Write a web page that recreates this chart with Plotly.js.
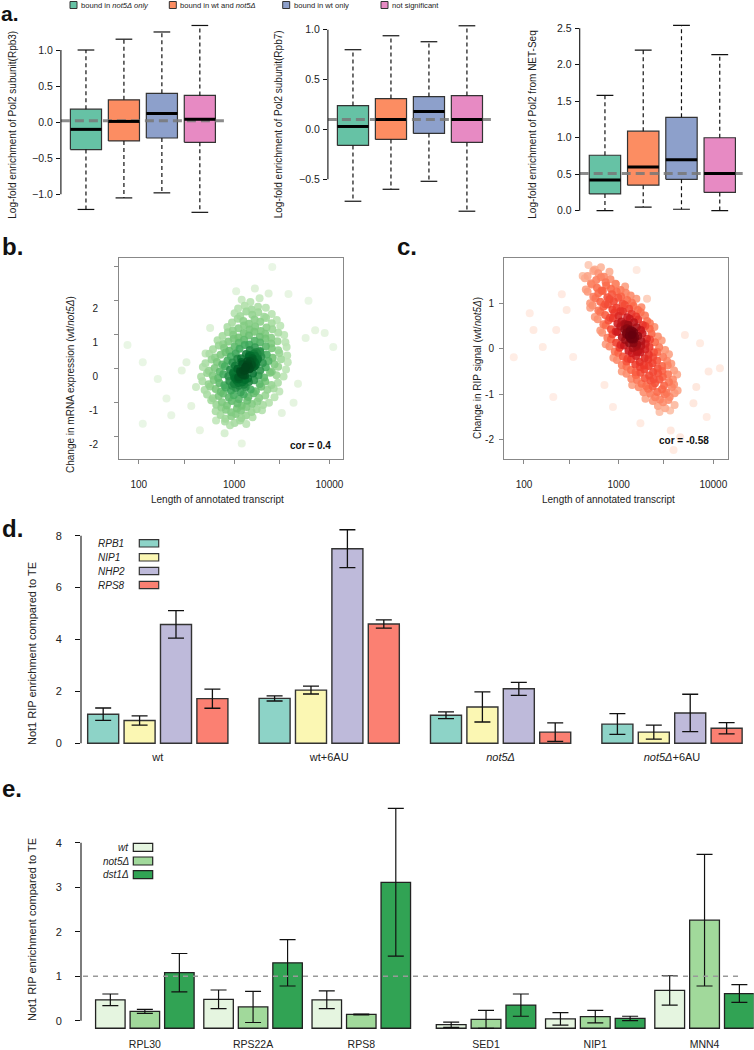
<!DOCTYPE html>
<html>
<head>
<meta charset="utf-8">
<script src="https://cdn.plot.ly/plotly-3.0.1.min.js"></script>
<style>
html,body{margin:0;padding:0;background:#ffffff;}
#fig{width:754px;height:1050px;}
</style>
</head>
<body>
<div id="fig"></div>
<script>
// ================= DATA =================
// Panel a: boxplot summaries (lower whisker, Q1, median, Q3, upper whisker)
const boxGroups = ['bound in <i>not5Δ only</i>', 'bound in wt and <i>not5Δ</i>', 'bound in wt only', 'not significant'];
const boxColors = ['#66c2a5', '#fc8d62', '#8da0cb', '#e78ac3'];

const rpb3Low  = [-1.21, -1.05, -0.98, -1.25];
const rpb3Q1   = [-0.38, -0.26, -0.22, -0.28];
const rpb3Med  = [-0.10,  0.01,  0.12,  0.04];
const rpb3Q3   = [ 0.18,  0.31,  0.40,  0.37];
const rpb3High = [ 1.00,  1.15,  1.25,  1.34];
const rpb3Ref  = 0.02;

const rpb7Low  = [-0.72, -0.60, -0.52, -0.82];
const rpb7Q1   = [-0.16, -0.10, -0.04, -0.13];
const rpb7Med  = [ 0.03,  0.10,  0.18,  0.10];
const rpb7Q3   = [ 0.24,  0.31,  0.33,  0.34];
const rpb7High = [ 0.80,  0.94,  0.88,  1.04];
const rpb7Ref  = 0.10;

const netLow  = [0.00, 0.05, 0.02, 0.00];
const netQ1   = [0.23, 0.35, 0.43, 0.25];
const netMed  = [0.42, 0.60, 0.70, 0.51];
const netQ3   = [0.76, 1.09, 1.28, 1.00];
const netHigh = [1.58, 2.20, 2.54, 2.14];
const netRef  = 0.51;

// Panel b: transcript length vs change in mRNA expression
const bLen = [
  800,905,1010,1150,1340,
  720,810,935,1040,1190,1330,1560,
  640,735,820,930,1070,1180,1350,1520,1720,1960,
  575,650,745,840,945,1080,1200,1370,1540,1750,2010,2320,
  520,600,690,770,880,990,1120,1260,1410,1600,1830,2120,2650,
  490,560,640,725,815,925,1040,1170,1320,1490,1690,1920,2230,2600,2980,
  465,540,610,700,790,890,1000,1130,1270,1430,1620,1850,2120,2460,2880,
  450,520,595,680,770,870,975,1100,1240,1400,1580,1800,2060,2380,2780,3300,
  470,545,625,705,800,905,1020,1150,1300,1460,1650,1880,2150,2480,2900,3500,
  500,580,660,750,850,960,1080,1220,1370,1550,1760,2000,2290,2650,3100,3650,
  550,630,720,815,925,1040,1180,1330,1500,1700,1930,2200,2540,2980,3600,
  600,690,785,890,1010,1140,1290,1460,1650,1880,2150,2480,2900,3550,
  670,770,870,990,1120,1270,1440,1640,1870,2130,2450,2850,3450,
  755,860,980,1110,1260,1430,1630,1860,2120,2450,2900,3350,
  850,970,1110,1270,1450,1660,1900,2180,2520,3050,
  950,1090,1250,1430,1640,1880,2160,2480,2800,
  1010,1160,1340,1550,1790,2070,2480,
  1100,1290,1520,1780,2150,
  1200,1480,1850,
  1050,1650,2300
];
const bChg = [
  -1.55,-1.66,-1.6,-1.52,-1.63,
  -1.36,-1.47,-1.4,-1.33,-1.45,-1.38,-1.43,
  -1.25,-1.14,-1.21,-1.28,-1.17,-1.23,-1.13,-1.27,-1.19,-1.22,
  -0.93,-1.06,-0.99,-1.08,-0.95,-1.02,-1.09,-0.94,-1.04,-0.97,-1.07,-1.0,
  -0.76,-0.87,-0.8,-0.73,-0.85,-0.78,-0.89,-0.75,-0.83,-0.72,-0.86,-0.79,-0.84,
  -0.63,-0.52,-0.6,-0.68,-0.55,-0.64,-0.57,-0.69,-0.54,-0.61,-0.66,-0.53,-0.62,-0.58,-0.67,
  -0.37,-0.46,-0.33,-0.42,-0.49,-0.36,-0.44,-0.31,-0.47,-0.39,-0.34,-0.45,-0.38,-0.48,-0.41,
  -0.24,-0.13,-0.2,-0.27,-0.16,-0.22,-0.11,-0.25,-0.18,-0.29,-0.14,-0.21,-0.26,-0.12,-0.19,-0.23,
  0.05,-0.06,0.02,-0.09,0.07,-0.03,0.09,-0.07,0.03,-0.01,0.08,-0.05,0.04,-0.08,0.06,-0.02,
  0.16,0.27,0.2,0.12,0.24,0.18,0.29,0.14,0.22,0.11,0.26,0.17,0.23,0.13,0.28,0.19,
  0.44,0.33,0.41,0.48,0.36,0.45,0.31,0.43,0.38,0.49,0.35,0.42,0.32,0.46,0.39,
  0.57,0.68,0.61,0.53,0.65,0.59,0.7,0.55,0.63,0.52,0.66,0.6,0.54,0.64,
  0.84,0.73,0.8,0.88,0.76,0.85,0.71,0.82,0.77,0.89,0.74,0.81,0.78,
  0.96,1.07,1.0,0.92,1.05,0.98,1.09,0.94,1.03,0.91,1.06,0.99,
  1.23,1.12,1.19,1.27,1.15,1.24,1.11,1.21,1.16,1.26,
  1.36,1.47,1.4,1.32,1.45,1.38,1.49,1.34,1.43,
  1.63,1.55,1.68,1.59,1.66,1.53,1.61,
  1.77,1.85,1.74,1.82,1.79,
  2.03,1.96,2.07,
  2.28,2.36,2.21
];
const bCoreLen = [1000,1060,1120,1180,1250,1320,1400,1480,1570,1660,1760,1860,
                  1000,1090,1170,1260,1350,1450,1550,1650,1120,1220,1320,1420,1520,1620,
                  950,1030,1110,1200,1300,1420,1540,1700,1880,980,1080,1190,1310,1440,1600,1780];
const bCoreChg = [-0.45,-0.35,-0.25,-0.15,-0.05,0.05,0.15,0.22,0.3,0.38,0.45,0.5,
                  -0.25,-0.3,-0.1,-0.2,0.1,0.0,0.25,0.2,-0.5,-0.4,-0.05,0.35,0.1,0.45,
                  -0.5,-0.28,-0.42,-0.1,-0.33,0.08,0.3,0.12,0.48,-0.15,0.0,0.2,-0.2,0.4,0.05,0.3];
const bOutLen = [76,110,195,219,398,437,646,2512,1202,6026,7079,10965,4677,110,316,3715,282,501,3162,5623,158,794,355,8913,4200,560];
const bOutChg = [0.7,0.19,-0.88,-1.37,-0.54,-1.81,-1.52,2.99,-2.2,2.0,1.13,0.64,-0.44,-1.62,0.19,2.2,-0.05,0.45,-1.3,0.9,-0.3,-1.9,-1.1,1.05,-1.0,1.2];
const bCor = 'cor = 0.4';

// Panel c: transcript length vs change in RIP signal
const cLen = [
  480,560,650,
  470,540,610,700,800,
  440,510,580,650,730,820,930,
  450,520,590,660,740,830,930,1050,1170,
  470,540,610,680,760,850,950,1060,1190,1340,
  500,570,640,720,800,890,990,1100,1230,1380,1540,
  530,610,690,770,860,950,1050,1160,1290,1440,1600,1740,
  560,640,720,810,900,1000,1110,1230,1370,1530,1710,1900,
  600,690,780,870,970,1070,1180,1310,1450,1610,1800,2000,2140,
  640,730,830,930,1040,1150,1270,1400,1550,1720,1910,2130,2390,
  670,760,860,970,1080,1200,1320,1460,1610,1790,1990,2230,2600,
  730,830,940,1050,1170,1290,1420,1570,1740,1930,2150,2420,2850,
  800,910,1020,1140,1270,1410,1560,1730,1910,2120,2360,2680,3100,
  880,990,1110,1240,1380,1530,1700,1880,2080,2310,2580,2950,3400,
  960,1080,1210,1350,1500,1670,1850,2050,2280,2550,2880,3250,3600,
  1080,1210,1350,1510,1680,1870,2080,2310,2580,2900,3300,3850,
  1210,1360,1520,1700,1890,2100,2340,2610,2930,3320,3750,4150,
  1390,1560,1750,1950,2170,2420,2700,3020,3400,3850,
  1630,1830,2050,2290,2560,2870,3220,3650,4200,
  1920,2160,2430,2730,3070,3460,3900,
  2300,2600,2950,3350,3900,
  2700,3100,3500
];
const cChg = [
  1.84,1.74,1.79,
  1.6,1.71,1.66,1.58,1.69,
  1.55,1.44,1.51,1.57,1.46,1.53,1.43,
  1.3,1.41,1.34,1.28,1.39,1.32,1.42,1.29,1.37,
  1.25,1.14,1.22,1.27,1.13,1.2,1.26,1.15,1.23,1.17,
  1.0,1.11,1.03,0.98,1.09,1.04,1.12,0.99,1.07,1.01,1.1,
  0.95,0.84,0.92,0.97,0.86,0.9,0.83,0.96,0.88,0.94,0.85,0.91,
  0.7,0.81,0.74,0.68,0.79,0.72,0.82,0.69,0.77,0.71,0.8,0.73,
  0.65,0.54,0.62,0.67,0.55,0.6,0.53,0.66,0.58,0.64,0.52,0.61,0.56,
  0.4,0.51,0.43,0.38,0.49,0.42,0.52,0.39,0.47,0.41,0.5,0.44,0.48,
  0.35,0.24,0.32,0.37,0.25,0.31,0.23,0.36,0.28,0.34,0.22,0.33,0.27,
  0.1,0.21,0.13,0.08,0.19,0.12,0.22,0.09,0.17,0.11,0.2,0.14,0.18,
  0.05,-0.06,0.02,0.07,-0.05,0.01,-0.07,0.06,-0.02,0.04,-0.08,0.03,-0.03,
  -0.2,-0.09,-0.17,-0.22,-0.1,-0.16,-0.08,-0.21,-0.13,-0.19,-0.07,-0.18,-0.12,
  -0.25,-0.36,-0.28,-0.23,-0.35,-0.29,-0.37,-0.24,-0.32,-0.26,-0.38,-0.27,-0.33,
  -0.5,-0.39,-0.47,-0.52,-0.4,-0.46,-0.38,-0.51,-0.43,-0.49,-0.37,-0.48,
  -0.55,-0.66,-0.58,-0.53,-0.65,-0.59,-0.67,-0.54,-0.62,-0.56,-0.68,-0.57,
  -0.8,-0.69,-0.77,-0.82,-0.7,-0.76,-0.68,-0.81,-0.73,-0.79,
  -0.85,-0.96,-0.88,-0.83,-0.95,-0.89,-0.97,-0.84,-0.92,
  -1.1,-0.99,-1.07,-1.12,-1.0,-1.06,-0.98,
  -1.15,-1.26,-1.18,-1.13,-1.24,
  -1.39,-1.31,-1.36
];
const cCoreLen = [1150,1220,1300,1380,1460,1250,1330,1410,1500,1200,1280,1360,1440,1540,1620];
const cCoreChg = [0.55,0.45,0.38,0.3,0.2,0.52,0.42,0.33,0.25,0.35,0.28,0.2,0.12,0.05,-0.05];
const cOutLen = [78,115,126,158,219,331,204,282,871,1698,3802,4467,6166,11749,6607,1549,7244,8511,417,501,5012,251,3548,1995,708,8913];
const cOutChg = [-0.19,0.78,0.41,0.04,0.41,-0.18,-1.06,0.85,-1.28,-1.64,-2.23,-1.95,-1.2,-0.43,-0.84,1.73,0.12,-1.5,1.6,0.9,0.3,1.2,-1.8,1.1,-0.8,-0.5];
const cCor = 'cor = -0.58';

// Panel d: Not1 RIP enrichment
const dConds = ['wt', 'wt+6AU', '<i>not5Δ</i>', '<i>not5Δ</i>+6AU'];
const dGenes = ['RPB1', 'NIP1', 'NHP2', 'RPS8'];
const dColors = ['#8dd3c7', '#fbf7b3', '#bebada', '#fb8072'];
const dRPB1 = [1.12, 1.73, 1.08, 0.74];  const dRPB1Err = [0.24, 0.10, 0.13, 0.40];
const dNIP1 = [0.88, 2.05, 1.40, 0.43];  const dNIP1Err = [0.18, 0.15, 0.58, 0.27];
const dNHP2 = [4.58, 7.50, 2.10, 1.17];  const dNHP2Err = [0.53, 0.73, 0.25, 0.72];
const dRPS8 = [1.72, 4.60, 0.43, 0.58];  const dRPS8Err = [0.37, 0.16, 0.36, 0.22];

// Panel e: Not1 RIP enrichment by strain
const eGenes = ['RPL30', 'RPS22A', 'RPS8', 'SED1', 'NIP1', 'MNN4'];
const eStrains = ['wt', 'not5Δ', 'dst1Δ'];
const eColors = ['#e5f5e0', '#a1d99b', '#31a354'];
const eWt    = [0.47, 0.48, 0.47, -0.09, 0.04, 0.68];  const eWtErr    = [0.13, 0.21, 0.20, 0.06, 0.14, 0.33];
const eNot5  = [0.21, 0.31, 0.14,  0.03, 0.09, 2.26];  const eNot5Err  = [0.045, 0.35, 0.01, 0.20, 0.14, 1.48];
const eDst1  = [1.08, 1.30, 3.11,  0.35, 0.05, 0.61];  const eDst1Err  = [0.43, 0.52, 1.66, 0.25, 0.05, 0.20];
const eRef = 1;
const eFloor = -0.17;   // bars in the original start slightly below the 0 tick

// ================= HELPERS =================
const W = 754, H = 1050;
const fx = p => p / W;
const fy = p => 1 - p / H;
const FONT = '"Liberation Sans", Arial, Helvetica, sans-serif';
const traces = [];
const shapes = [];
const annotations = [];

function ann(xp, yp, text, o) {
  o = o || {};
  annotations.push(Object.assign({
    xref: 'paper', yref: 'paper', x: fx(xp), y: fy(yp), text: text, showarrow: false,
    xanchor: 'center', yanchor: 'middle',
    font: {family: FONT, size: 10, color: '#222'}
  }, o));
}

// ---------- Panel a ----------
const A1_XR = [0.34, 4.66], A2_XR = [0.34, 4.66], A3_XR = [0.34, 4.66];
function addBoxPanel(xa, ya, xr, low, q1, med, q3, high, ref) {
  const hw = 0.41, cw = 0.22;
  for (let i = 0; i < low.length; i++) {
    const c = i + 1;
    traces.push({type: 'scatter', mode: 'lines', xaxis: xa, yaxis: ya,
      x: [c - hw, c + hw, c + hw, c - hw, c - hw], y: [q1[i], q1[i], q3[i], q3[i], q1[i]],
      fill: 'toself', fillcolor: boxColors[i], line: {color: '#333', width: 1.2}, hoverinfo: 'skip'});
  }
  const wx = [], wy = [], cx = [], cy = [], mx = [], my = [];
  for (let i = 0; i < low.length; i++) {
    const c = i + 1;
    wx.push(c, c, null, c, c, null); wy.push(q3[i], high[i], null, q1[i], low[i], null);
    cx.push(c - cw, c + cw, null, c - cw, c + cw, null); cy.push(high[i], high[i], null, low[i], low[i], null);
    mx.push(c - hw, c + hw, null); my.push(med[i], med[i], null);
  }
  traces.push({type: 'scatter', mode: 'lines', xaxis: xa, yaxis: ya, x: wx, y: wy,
    line: {color: '#111', width: 1.2, dash: '4px,3px'}, hoverinfo: 'skip'});
  traces.push({type: 'scatter', mode: 'lines', xaxis: xa, yaxis: ya, x: cx, y: cy,
    line: {color: '#111', width: 1.2}, hoverinfo: 'skip'});
  traces.push({type: 'scatter', mode: 'lines', xaxis: xa, yaxis: ya, x: xr, y: [ref, ref],
    line: {color: 'rgba(120,120,120,0.85)', width: 3, dash: '9px,5px'}, hoverinfo: 'skip'});
  traces.push({type: 'scatter', mode: 'lines', xaxis: xa, yaxis: ya, x: mx, y: my,
    line: {color: '#000', width: 3}, hoverinfo: 'skip'});
}
addBoxPanel('x', 'y', A1_XR, rpb3Low, rpb3Q1, rpb3Med, rpb3Q3, rpb3High, rpb3Ref);
addBoxPanel('x2', 'y2', A2_XR, rpb7Low, rpb7Q1, rpb7Med, rpb7Q3, rpb7High, rpb7Ref);
addBoxPanel('x3', 'y3', A3_XR, netLow, netQ1, netMed, netQ3, netHigh, netRef);

// ---------- Panels b, c ----------
const greens = [[0, '#eef8ea'], [0.18, '#e0f2da'], [0.32, '#c7e9c0'], [0.46, '#a1d99b'], [0.6, '#74c476'],
  [0.72, '#41ab5d'], [0.83, '#238b45'], [0.92, '#006d2c'], [1, '#00441b']];
const reds = [[0, '#fff0ea'], [0.18, '#fee0d2'], [0.32, '#fcbba1'], [0.46, '#fc9272'], [0.6, '#fb6a4a'],
  [0.72, '#ef3b2c'], [0.83, '#cb181d'], [0.92, '#a50f15'], [1, '#67000d']];

function addDensScatter(xa, ya, lens, chgs, pxDec, pxUnit, scale, gamma) {
  const n = lens.length, bw = 11;
  const lx = lens.map(v => Math.log10(v) * pxDec);
  const ly = chgs.map(v => v * pxUnit);
  const dens = lx.map((x, i) => {
    let s = 0;
    for (let j = 0; j < n; j++) {
      const dx = x - lx[j], dy = ly[i] - ly[j];
      s += Math.exp(-(dx * dx + dy * dy) / (2 * bw * bw));
    }
    return s;
  });
  const m = Math.max(...dens);
  const order = dens.map((d, i) => i).sort((a, b) => dens[a] - dens[b]);
  traces.push({type: 'scatter', mode: 'markers', xaxis: xa, yaxis: ya,
    x: order.map(i => lens[i]), y: order.map(i => chgs[i]),
    marker: {size: 8, color: order.map(i => Math.pow(dens[i] / m, gamma)), colorscale: scale, cmin: 0, cmax: 1,
      opacity: 0.9, line: {width: 0}}, hoverinfo: 'skip'});
}
addDensScatter('x4', 'y4', bLen.concat(bCoreLen, bOutLen), bChg.concat(bCoreChg, bOutChg), 96.3, 34, greens, 0.65);
addDensScatter('x5', 'y5', cLen.concat(cCoreLen, cOutLen), cChg.concat(cCoreChg, cOutChg), 94.7, 45.5, reds, 0.8);

// ---------- Panel d ----------
const dVals = [dRPB1, dNIP1, dNHP2, dRPS8];
const dErrs = [dRPB1Err, dNIP1Err, dNHP2Err, dRPS8Err];
const D_SLOT = 0.2124, D_BAR = 0.181;
dVals.forEach((vals, k) => {
  traces.push({type: 'bar', xaxis: 'x6', yaxis: 'y6', x: dConds, y: vals, name: dGenes[k],
    width: D_BAR, offset: -2 * D_SLOT + (D_SLOT - D_BAR) / 2 + k * D_SLOT,
    marker: {color: dColors[k], line: {color: '#333', width: 1.4}},
    error_y: {type: 'data', array: dErrs[k], visible: true, color: '#111', thickness: 1.3, width: 8},
    hoverinfo: 'skip'});
});

// ---------- Panel e ----------
const eVals = [eWt, eNot5, eDst1];
const eErrs = [eWtErr, eNot5Err, eDst1Err];
const E_SLOT = 0.3189, E_BAR = 0.2726;
[['x7', 0, 3], ['x8', 3, 6]].forEach(([xa, s, e]) => {
  eVals.forEach((vals, k) => {
    traces.push({type: 'bar', xaxis: xa, yaxis: 'y7', x: eGenes.slice(s, e),
      y: vals.slice(s, e).map(v => v - eFloor), base: eFloor, name: eStrains[k],
      width: E_BAR, offset: -1.5 * E_SLOT + (E_SLOT - E_BAR) / 2 + k * E_SLOT,
      marker: {color: eColors[k], line: {color: '#222', width: 1.3}},
      error_y: {type: 'data', array: eErrs[k].slice(s, e), visible: true, color: '#111', thickness: 1.2, width: 8},
      hoverinfo: 'skip'});
  });
});

// ================= AXES / SHAPES / TEXT =================
const base = {showgrid: false, zeroline: false, fixedrange: true};
const tickFontA = {family: FONT, size: 10.5, color: '#222'};

function aY(domTop, domBot, range, tv, anchor) {
  return Object.assign({}, base, {domain: [fy(domBot), fy(domTop)], range: range, anchor: anchor,
    tickvals: tv, tickformat: '.1f', ticks: 'outside', ticklen: 4, tickcolor: '#111', tickwidth: 1,
    showline: false, tickfont: tickFontA, ticklabelstandoff: 1});
}
function aX(l, r, range, anchor) {
  return Object.assign({}, base, {domain: [fx(l), fx(r)], range: range, anchor: anchor,
    showticklabels: false, ticks: '', showline: false});
}

const layout = {
  width: W, height: H, margin: {l: 0, r: 0, t: 0, b: 0},
  paper_bgcolor: '#ffffff', plot_bgcolor: 'rgba(0,0,0,0)', showlegend: false,
  font: {family: FONT, size: 10, color: '#222'}, barmode: 'overlay',
  xaxis: aX(60.9, 224.9, A1_XR, 'y'),
  yaxis: aY(20, 215, [-1.287, 1.416], [-1, -0.5, 0, 0.5, 1], 'x'),
  xaxis2: aX(327.9, 492, A2_XR, 'y2'),
  yaxis2: aY(20, 215, [-0.858, 1.098], [-0.5, 0, 0.5, 1], 'x2'),
  xaxis3: aX(579.7, 745, A3_XR, 'y3'),
  yaxis3: aY(20, 215, [-0.059, 2.614], [0, 0.5, 1, 1.5, 2, 2.5], 'x3'),

  xaxis4: Object.assign({}, base, {type: 'log', domain: [fx(119), fx(343)], range: [1.792, 4.142], anchor: 'y4',
    tickvals: [100, 300, 1000, 3000, 10000], ticktext: ['100', '', '1000', '', '10000'],
    ticks: 'outside', ticklen: 4, tickcolor: '#888', showline: true, linecolor: '#888', linewidth: 1, mirror: true,
    tickfont: {family: FONT, size: 10, color: '#222'}, ticklabelstandoff: 12}),
  yaxis4: Object.assign({}, base, {domain: [fy(459), fy(258)], range: [-2.656, 3.256], anchor: 'x4',
    tickvals: [-2, -1, 0, 1, 2, 3], ticktext: ['-2', '-1', '0', '1', '2', ''],
    ticks: 'outside', ticklen: 4, tickcolor: '#888', showline: true, linecolor: '#888', linewidth: 1, mirror: true,
    tickfont: {family: FONT, size: 10, color: '#222'}, ticklabelstandoff: 14, ticklabelshift: 8}),
  xaxis5: Object.assign({}, base, {type: 'log', domain: [fx(504), fx(727.7)], range: [1.789, 4.152], anchor: 'y5',
    tickvals: [100, 300, 1000, 3000, 10000], ticktext: ['100', '', '1000', '', '10000'],
    ticks: 'outside', ticklen: 4, tickcolor: '#888', showline: true, linecolor: '#888', linewidth: 1, mirror: true,
    tickfont: {family: FONT, size: 10, color: '#222'}, ticklabelstandoff: 12}),
  yaxis5: Object.assign({}, base, {domain: [fy(459), fy(258)], range: [-2.426, 1.995], anchor: 'x5',
    tickvals: [-2, -1, 0, 1], ticktext: ['-2', '-1', '0', '1'],
    ticks: 'outside', ticklen: 4, tickcolor: '#888', showline: true, linecolor: '#888', linewidth: 1, mirror: true,
    tickfont: {family: FONT, size: 10, color: '#222'}, ticklabelstandoff: 3}),

  xaxis6: Object.assign({}, base, {type: 'category', domain: [fx(81), fx(750)], range: [-0.448, 3.455], anchor: 'y6',
    ticks: '', showline: false, tickfont: {family: FONT, size: 11, color: '#222'}, ticklabelstandoff: 4}),
  yaxis6: Object.assign({}, base, {domain: [fy(745), fy(528)], range: [-0.066, 8.297], anchor: 'x6',
    tickvals: [0, 2, 4, 6, 8], ticks: 'outside', ticklen: 5, tickcolor: '#111', showline: false,
    tickfont: {family: FONT, size: 11, color: '#222'}, ticklabelstandoff: 11}),

  xaxis7: Object.assign({}, base, {type: 'category', domain: [fx(81), fx(415.4)], range: [-0.59, 2.5], anchor: 'y7',
    ticks: '', showline: false, tickfont: {family: FONT, size: 10.5, color: '#222'}, ticklabelstandoff: 4}),
  xaxis8: Object.assign({}, base, {type: 'category', domain: [fx(431.4), fx(753.7)], range: [-0.5, 2.45], anchor: 'y7',
    ticks: '', showline: false, tickfont: {family: FONT, size: 10.5, color: '#222'}, ticklabelstandoff: 4}),
  yaxis7: Object.assign({}, base, {domain: [fy(1032), fy(800)], range: [-0.254, 4.96], anchor: 'x7',
    tickvals: [0, 1, 2, 3, 4], ticks: 'outside', ticklen: 5, tickcolor: '#111', showline: false,
    tickfont: {family: FONT, size: 11, color: '#222'}, ticklabelstandoff: 11}),
  shapes: shapes, annotations: annotations
};

// R-style axis lines spanning the tick range
[['x domain', 'y', -1, 1], ['x2 domain', 'y2', -0.5, 1], ['x3 domain', 'y3', 0, 2.5],
 ['x6 domain', 'y6', 0, 8], ['x7 domain', 'y7', 0, 4]].forEach(([xr, yr, a, b]) => {
  shapes.push({type: 'line', xref: xr, yref: yr, x0: 0, x1: 0, y0: a, y1: b, line: {color: '#111', width: 1.1}});
});
// reference line in e
shapes.push({type: 'line', xref: 'paper', yref: 'y7', x0: fx(83), x1: fx(743), y0: eRef, y1: eRef,
  line: {color: '#999', width: 1.5, dash: '5px,5px'}, layer: 'above'});

// Panel a legend
const legX = [70, 169.3, 282.7, 381];
boxGroups.forEach((g, i) => {
  shapes.push({type: 'rect', xref: 'paper', yref: 'paper', x0: fx(legX[i]), x1: fx(legX[i] + 7),
    y0: fy(8.5), y1: fy(1.5), fillcolor: boxColors[i], line: {color: '#333', width: 1}});
  ann(legX[i] + 9, 5.2, g, {xanchor: 'left', font: {family: FONT, size: 7.6, color: '#222'}});
});

// Panel d legend
const dLegY = [543.3, 557.3, 571, 585];
dGenes.forEach((g, k) => {
  shapes.push({type: 'rect', xref: 'paper', yref: 'paper', x0: fx(139.3), x1: fx(158.7),
    y0: fy(dLegY[k] + 3.7), y1: fy(dLegY[k] - 3.7), fillcolor: dColors[k], line: {color: '#333', width: 1.2}});
  ann(96, dLegY[k], '<i>' + g + '</i>', {xanchor: 'left', font: {family: FONT, size: 10, color: '#222'}});
});

// Panel e legend
const eLegY = [847.3, 861, 874.7];
eStrains.forEach((g, k) => {
  shapes.push({type: 'rect', xref: 'paper', yref: 'paper', x0: fx(133.3), x1: fx(152.7),
    y0: fy(eLegY[k] + 4), y1: fy(eLegY[k] - 4), fillcolor: eColors[k], line: {color: '#222', width: 1.2}});
  ann(131, eLegY[k], '<i>' + g + '</i>', {xanchor: 'right', font: {family: FONT, size: 10, color: '#222'}});
});

// Panel letters
const bold = s => ({family: FONT, size: s, color: '#111'});
ann(0, 0.5, '<b>a.</b>', {xanchor: 'left', yanchor: 'top', borderpad: 0, font: bold(21)});
ann(0, 246.7, '<b>b.</b>', {xanchor: 'left', font: bold(24)});
ann(395, 246.7, '<b>c.</b>', {xanchor: 'left', font: bold(24)});
ann(0, 528.7, '<b>d.</b>', {xanchor: 'left', font: bold(24)});
ann(0, 788.7, '<b>e.</b>', {xanchor: 'left', font: bold(24)});

// Axis titles
ann(11.7, 125, 'Log-fold enrichment of Pol2 subunit(Rpb3)', {textangle: -90});
ann(278.3, 124, 'Log-fold enrichment of Pol2 subunit(Rpb7)', {textangle: -90});
ann(531.7, 125, 'Log-fold enrichment of Pol2 from NET-Seq', {textangle: -90});
ann(70, 385, 'Change in mRNA expression (wt/<i>not5Δ</i>)', {textangle: -90});
ann(477, 368, 'Change in RIP signal (wt/<i>not5Δ</i>)', {textangle: -90});
ann(217.7, 499, 'Length of annotated transcript');
ann(608.7, 499, 'Length of annotated transcript');
ann(32, 654, 'Not1 RIP enrichment compared to TE', {textangle: -90, font: {family: FONT, size: 11, color: '#222'}});
ann(32, 930, 'Not1 RIP enrichment compared to TE', {textangle: -90, font: {family: FONT, size: 11, color: '#222'}});
ann(333, 445, '<b>' + bCor + '</b>', {xanchor: 'right', font: {family: FONT, size: 10, color: '#111'}});
ann(711, 441, '<b>' + cCor + '</b>', {xanchor: 'right', font: {family: FONT, size: 10, color: '#111'}});

Plotly.newPlot('fig', traces, layout, {staticPlot: true, displayModeBar: false});
</script>
</body>
</html>
